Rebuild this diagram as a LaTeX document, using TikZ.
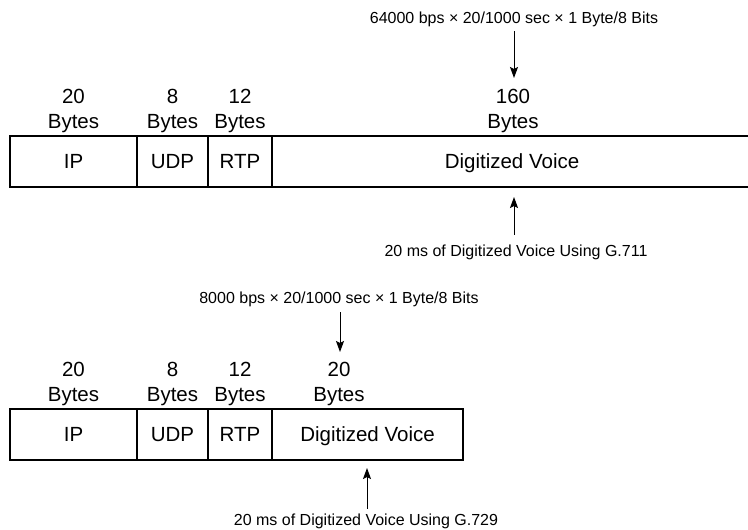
\documentclass[tikz,border=0pt]{standalone}
\usepackage{fontspec}
\setmainfont{Liberation Sans}
\usetikzlibrary{arrows.meta}
\begin{document}
\begin{tikzpicture}[x=1bp,y=-1bp,
  cell/.style={draw, line width=1.1bp, inner sep=0pt, minimum height=51bp, text height=14.7bp, text depth=0pt, font=\fontsize{20.5bp}{25bp}\selectfont},
  lbl/.style={inner sep=0pt, align=center, font=\fontsize{20.5bp}{25bp}\selectfont},
  small/.style={inner sep=0pt, font=\fontsize{16bp}{19bp}\selectfont},
  arr/.style={line width=1bp, -{Stealth[length=11bp,width=8bp,inset=2bp]}}]
\useasboundingbox (0,0) rectangle (748,530);
% ---------- top packet (G.711) ----------
\node[cell, minimum width=127bp] (ipA)  at (73.5,161.5) {IP};
\node[cell, minimum width=71bp]  (udpA) at (172.5,161.5) {UDP};
\node[cell, minimum width=64bp]  (rtpA) at (240,161.5) {RTP};
\node[cell, minimum width=480bp] (dvA)  at (512,161.5) {Digitized Voice};
\node[lbl] (lipA)  at (73.5,111) {20\\Bytes};
\node[lbl] (ludpA) at (172.5,111) {8\\Bytes};
\node[lbl] (lrtpA) at (240,111) {12\\Bytes};
\node[lbl] (ldvA)  at (513,111) {160\\Bytes};
\node[small] (fA) at (514,19.7) {64000 bps × 20/1000 sec × 1 Byte/8 Bits};
\coordinate (tA) at (514,78);
\draw[arr, shorten <=4bp] (fA.south) -- (tA);
\node[small] (gA) at (516,252.5) {20 ms of Digitized Voice Using G.711};
\coordinate (uA) at (514,197);
\draw[arr, shorten <=10bp] (gA.north -| uA) -- (uA);
% ---------- bottom packet (G.729) ----------
\node[cell, minimum width=127bp] (ipB)  at (73.5,434.5) {IP};
\node[cell, minimum width=71bp]  (udpB) at (172.5,434.5) {UDP};
\node[cell, minimum width=64bp]  (rtpB) at (240,434.5) {RTP};
\node[cell, minimum width=191bp] (dvB)  at (367.5,434.5) {Digitized Voice};
\node[lbl] (lipB)  at (73.5,384) {20\\Bytes};
\node[lbl] (ludpB) at (172.5,384) {8\\Bytes};
\node[lbl] (lrtpB) at (240,384) {12\\Bytes};
\node[lbl] (ldvB)  at (339,384) {20\\Bytes};
\node[small] (fB) at (339,299.7) {8000 bps × 20/1000 sec × 1 Byte/8 Bits};
\coordinate (tB) at (340,352);
\draw[arr, shorten <=5bp] (fB.south -| tB) -- (tB);
\node[small] (gB) at (366,521.5) {20 ms of Digitized Voice Using G.729};
\coordinate (uB) at (367,468);
\draw[arr, shorten <=5bp] (gB.north -| uB) -- (uB);
\end{tikzpicture}
\end{document}
